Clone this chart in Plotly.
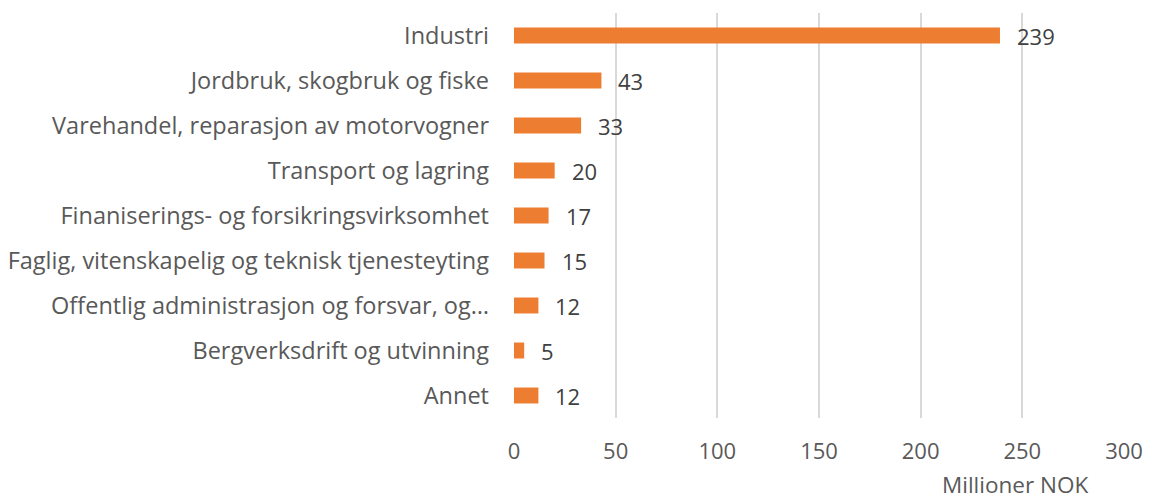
import plotly.graph_objects as go

categories = [
    "Industri",
    "Jordbruk, skogbruk og fiske",
    "Varehandel, reparasjon av motorvogner",
    "Transport og lagring",
    "Finaniserings- og forsikringsvirksomhet",
    "Faglig, vitenskapelig og teknisk tjenesteyting",
    "Offentlig administrasjon og forsvar, og…",
    "Bergverksdrift og utvinning",
    "Annet",
]
values = [239, 43, 33, 20, 17, 15, 12, 5, 12]
x_ticks = [0, 50, 100, 150, 200, 250, 300]
axis_title = "Millioner NOK"

FONT = "Open Sans"
GREY = "#595959"

fig = go.Figure()
fig.add_trace(go.Bar(
    y=categories,
    x=values,
    orientation="h",
    marker=dict(color="#ED7D31", line=dict(width=0)),
    hoverinfo="skip",
))

for c, v in zip(categories, values):
    fig.add_annotation(
        x=v, y=c, xref="x", yref="y",
        text=str(v), showarrow=False,
        xanchor="left", yanchor="middle", xshift=15, yshift=0,
        font=dict(family=FONT, size=22, color="#404040"),
    )

fig.add_annotation(
    x=0.944, y=-0.165, xref="paper", yref="paper",
    text=axis_title, showarrow=False,
    xanchor="right", yanchor="middle",
    font=dict(family=FONT, size=22.5, color=GREY),
)

fig.update_layout(
    width=1151, height=499,
    margin=dict(l=514, r=27, t=13, b=81, autoexpand=False),
    paper_bgcolor="white", plot_bgcolor="white",
    showlegend=False,
    bargap=0.645,
    font=dict(family=FONT, size=22, color=GREY),
)
fig.update_xaxes(
    range=[0, 300],
    tickvals=x_ticks,
    showgrid=True, gridcolor="#D9D9D9", gridwidth=1.5,
    zeroline=False, showline=False, automargin=False,
    ticks="", ticklabelstandoff=18,
    tickfont=dict(family=FONT, size=22, color=GREY),
)
fig.update_yaxes(
    categoryorder="array", categoryarray=categories,
    autorange="reversed", automargin=False,
    showgrid=False, zeroline=False, showline=False,
    ticks="", ticklabelstandoff=24,
    tickfont=dict(family=FONT, size=23.5, color=GREY),
)

fig.write_html("out.html")
